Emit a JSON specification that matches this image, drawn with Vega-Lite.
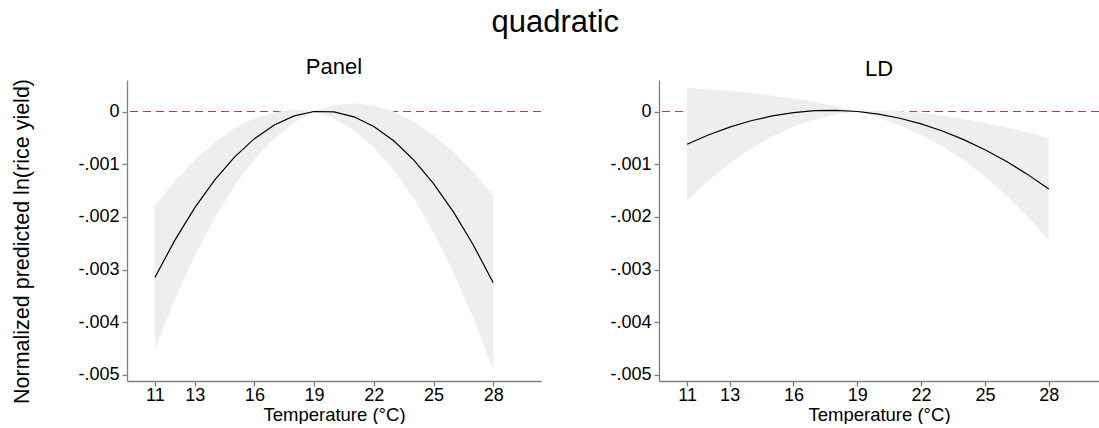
{
  "$schema": "https://vega.github.io/schema/vega-lite/v6.json",
  "background": "white",
  "autosize": {"type": "pad"},
  "padding": {"left": 10, "top": 7, "right": 0, "bottom": 0},
  "bounds": "flush",
  "spacing": 118,
  "title": {
    "text": "quadratic",
    "fontSize": 31,
    "fontWeight": "normal",
    "color": "#000000",
    "anchor": "middle",
    "offset": 17
  },
  "config": {
    "font": "Liberation Sans",
    "view": {"stroke": null},
    "title": {"font": "Liberation Sans", "fontWeight": "normal", "color": "#000000"},
    "axis": {
      "grid": false,
      "domainColor": "#7f7f7f",
      "domainWidth": 1.3,
      "tickColor": "#7f7f7f",
      "tickWidth": 1.3,
      "tickSize": 5,
      "labelFont": "Liberation Sans",
      "labelFontSize": 18,
      "labelColor": "#000000",
      "labelPadding": 3,
      "titleFont": "Liberation Sans",
      "titleFontSize": 18.5,
      "titleFontWeight": "normal",
      "titleColor": "#000000"
    },
    "axisX": {"labelPadding": 0}
  },
  "datasets": {
    "panel": [
      {"temp": 11, "fit": -0.00315, "lo": -0.00451, "hi": -0.00179},
      {"temp": 12, "fit": -0.002445, "lo": -0.003566, "hi": -0.001324},
      {"temp": 13, "fit": -0.00183, "lo": -0.002737, "hi": -0.000923},
      {"temp": 14, "fit": -0.001303, "lo": -0.002019, "hi": -0.000587},
      {"temp": 15, "fit": -0.000865, "lo": -0.001411, "hi": -0.000319},
      {"temp": 16, "fit": -0.000515, "lo": -0.000908, "hi": -0.000122},
      {"temp": 17, "fit": -0.000255, "lo": -0.000509, "hi": -0.00002},
      {"temp": 18, "fit": -0.000083, "lo": -0.000208, "hi": 0.000042},
      {"temp": 19, "fit": 0, "lo": 0, "hi": 0},
      {"temp": 20, "fit": -0.000006, "lo": -0.000131, "hi": 0.000119},
      {"temp": 21, "fit": -0.000101, "lo": -0.000357, "hi": 0.000155},
      {"temp": 22, "fit": -0.000284, "lo": -0.000682, "hi": 0.000114},
      {"temp": 23, "fit": -0.000556, "lo": -0.00111, "hi": -0.000002},
      {"temp": 24, "fit": -0.000918, "lo": -0.001647, "hi": -0.00019},
      {"temp": 25, "fit": -0.001368, "lo": -0.002292, "hi": -0.000444},
      {"temp": 26, "fit": -0.001906, "lo": -0.003049, "hi": -0.000763},
      {"temp": 27, "fit": -0.002534, "lo": -0.00392, "hi": -0.001148},
      {"temp": 28, "fit": -0.00325, "lo": -0.004906, "hi": -0.001594}
    ],
    "ld": [
      {"temp": 11, "fit": -0.000622, "lo": -0.001694, "hi": 0.00045},
      {"temp": 12, "fit": -0.000445, "lo": -0.001314, "hi": 0.000424},
      {"temp": 13, "fit": -0.000296, "lo": -0.000984, "hi": 0.000392},
      {"temp": 14, "fit": -0.000176, "lo": -0.000705, "hi": 0.000353},
      {"temp": 15, "fit": -0.000084, "lo": -0.000473, "hi": 0.000305},
      {"temp": 16, "fit": -0.000021, "lo": -0.000289, "hi": 0.000247},
      {"temp": 17, "fit": 0.000015, "lo": -0.00015, "hi": 0.00018},
      {"temp": 18, "fit": 0.0000215, "lo": -0.000056, "hi": 0.000099},
      {"temp": 19, "fit": 0, "lo": 0, "hi": 0},
      {"temp": 20, "fit": -0.00005, "lo": -0.00012, "hi": 0.00002},
      {"temp": 21, "fit": -0.000128, "lo": -0.000267, "hi": 0.000011},
      {"temp": 22, "fit": -0.000235, "lo": -0.000447, "hi": -0.000023},
      {"temp": 23, "fit": -0.00037, "lo": -0.000665, "hi": -0.000075},
      {"temp": 24, "fit": -0.000533, "lo": -0.000925, "hi": -0.000141},
      {"temp": 25, "fit": -0.000725, "lo": -0.001232, "hi": -0.000218},
      {"temp": 26, "fit": -0.000945, "lo": -0.001587, "hi": -0.000303},
      {"temp": 27, "fit": -0.001193, "lo": -0.00199, "hi": -0.000396},
      {"temp": 28, "fit": -0.00147, "lo": -0.002445, "hi": -0.000495}
    ],
    "zero": [{"ref": 0}]
  },
  "hconcat": [
    {
      "width": 414,
      "height": 301,
      "title": {"text": "Panel", "fontSize": 22, "offset": -1},
      "layer": [
        {
          "data": {"name": "zero"},
          "mark": {"type": "rule", "color": "#a04848", "strokeDash": [8, 5], "strokeWidth": 1.2},
          "encoding": {
            "y": {"field": "ref", "type": "quantitative"}
          }
        },
        {
          "data": {"name": "panel"},
          "mark": {"type": "area", "color": "#eeeeee", "opacity": 1},
          "encoding": {
            "x": {
              "field": "temp",
              "type": "quantitative",
              "scale": {"domain": [9.6, 30.4], "nice": false, "zero": false},
              "axis": {"values": [11, 13, 16, 19, 22, 25, 28], "title": "Temperature (°C)", "titlePadding": 1}
            },
            "y": {
              "field": "lo",
              "type": "quantitative",
              "scale": {"domain": [-0.005114, 0.000598], "nice": false, "zero": false},
              "axis": {
                "values": [-0.005, -0.004, -0.003, -0.002, -0.001, 0],
                "labelExpr": "datum.value == 0 ? '0' : '-.00' + toString(round(-datum.value * 1000))",
                "title": "Normalized predicted ln(rice yield)",
                "titleFontSize": 21.5,
                "titleAngle": -90,
                "titleAlign": "center",
                "titleBaseline": "alphabetic",
                "titleX": -99,
                "titleY": 161
              }
            },
            "y2": {"field": "hi"}
          }
        },
        {
          "data": {"name": "panel"},
          "mark": {"type": "line", "color": "#000000", "strokeWidth": 1.2},
          "encoding": {
            "x": {"field": "temp", "type": "quantitative"},
            "y": {"field": "fit", "type": "quantitative"}
          }
        }
      ]
    },
    {
      "width": 440,
      "height": 301,
      "title": {"text": "LD", "fontSize": 22, "offset": -1},
      "layer": [
        {
          "data": {"name": "zero"},
          "mark": {"type": "rule", "color": "#a04848", "strokeDash": [8, 5], "strokeWidth": 1.2},
          "encoding": {
            "y": {"field": "ref", "type": "quantitative"}
          }
        },
        {
          "data": {"name": "ld"},
          "mark": {"type": "area", "color": "#eeeeee", "opacity": 1},
          "encoding": {
            "x": {
              "field": "temp",
              "type": "quantitative",
              "scale": {"domain": [9.68, 30.36], "nice": false, "zero": false},
              "axis": {"values": [11, 13, 16, 19, 22, 25, 28], "title": "Temperature (°C)", "titlePadding": 1}
            },
            "y": {
              "field": "lo",
              "type": "quantitative",
              "scale": {"domain": [-0.005114, 0.000598], "nice": false, "zero": false},
              "axis": {
                "values": [-0.005, -0.004, -0.003, -0.002, -0.001, 0],
                "labelExpr": "datum.value == 0 ? '0' : '-.00' + toString(round(-datum.value * 1000))",
                "title": null
              }
            },
            "y2": {"field": "hi"}
          }
        },
        {
          "data": {"name": "ld"},
          "mark": {"type": "line", "color": "#000000", "strokeWidth": 1.2},
          "encoding": {
            "x": {"field": "temp", "type": "quantitative"},
            "y": {"field": "fit", "type": "quantitative"}
          }
        }
      ]
    }
  ]
}
